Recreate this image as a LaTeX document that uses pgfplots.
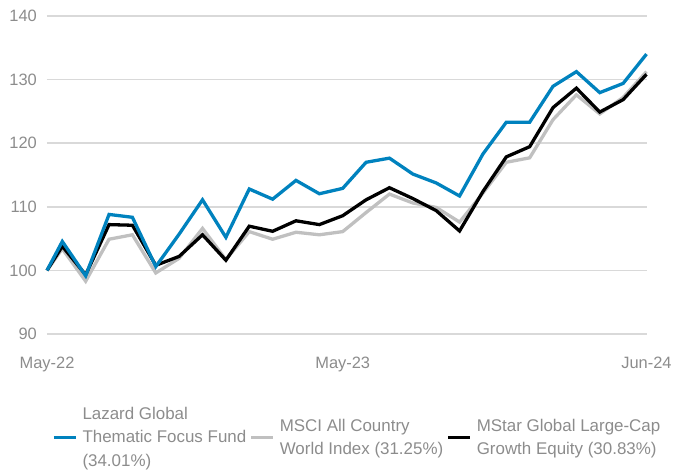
\documentclass[border=0pt]{standalone}
\usepackage{fontspec}
\setmainfont{Liberation Sans}
\usepackage{pgfplots}
\pgfplotsset{compat=1.18}
\definecolor{lzblue}{RGB}{0,130,190}
\definecolor{lzgray}{RGB}{192,192,192}
\definecolor{txtgray}{RGB}{140,140,140}
\definecolor{gridgray}{RGB}{217,217,217}
\begin{document}
\begin{tikzpicture}
\begin{axis}[name=ax, scale only axis, width=599.5bp, height=318bp,
  xmin=0.345, xmax=26, ymin=90, ymax=140,
  axis line style={draw=none}, major tick length=0pt,
  ymajorgrids, grid style={gridgray, line width=1.6bp},
  ytick={90,100,...,140},
  xtick={0.345,13,26}, xticklabels={May-22,May-23,Jun-24},
  tick label style={font=\fontsize{16.5}{20}\selectfont, text=txtgray},
  /pgf/number format/assume math mode=true,
  yticklabel style={anchor=east, inner sep=0pt, xshift=-10bp},
  xticklabel style={anchor=north, inner sep=0pt, yshift=-22.7bp},
  clip=false,
  legend style={draw=none, fill=none, at={(0,0)}, anchor=west, xshift=5bp, yshift=-103.5bp,
    inner sep=0pt, outer sep=0pt, font=\fontsize{17}{23.5}\selectfont, text=txtgray,
    cells={anchor=west, align=left, inner sep=0pt},
    nodes={inner sep=0pt},
    /tikz/every odd column/.append style={column sep=5bp},
    /tikz/every even column/.append style={column sep=3bp}},
  legend columns=3,
  legend image code/.code={\draw[#1, line width=3.5bp] (0bp,0bp) -- (22bp,0bp);},
]
\addlegendimage{lzblue}
\addlegendentry{Lazard Global\\Thematic Focus Fund\\(34.01\%)}
\addlegendimage{lzgray}
\addlegendentry{MSCI All Country\\World Index (31.25\%)}
\addlegendimage{black}
\addlegendentry{MStar Global Large-Cap\\Growth Equity (30.83\%)}

% MSCI ACWI
\addplot[forget plot, lzgray, line width=3.3bp, line join=miter] coordinates {
(0.345,100) (1,103.4) (2,98.3) (3,104.9) (4,105.6) (5,99.6) (6,101.9) (7,106.6)
(8,101.7) (9,106.1) (10,104.9) (11,106.0) (12,105.6) (13,106.1) (14,109.1)
(15,112.0) (16,110.6) (17,109.9) (18,107.6) (19,112.15) (20,117.0) (21,117.7)
(22,123.7) (23,127.6) (24,124.6) (25,127.2) (26,131.25)};
% MStar
\addplot[forget plot, black, line width=3.3bp, line join=miter] coordinates {
(0.345,100) (1,103.8) (2,99.3) (3,107.2) (4,107.1) (5,100.8) (6,102.2) (7,105.6)
(8,101.6) (9,106.95) (10,106.15) (11,107.8) (12,107.2) (13,108.6) (14,111.1)
(15,113.0) (16,111.3) (17,109.4) (18,106.2) (19,112.4) (20,117.85) (21,119.45)
(22,125.6) (23,128.65) (24,124.9) (25,126.85) (26,130.83)};
% Lazard
\addplot[forget plot, lzblue, line width=3.3bp, line join=miter] coordinates {
(0.345,100) (1,104.55) (2,99.15) (3,108.8) (4,108.35) (5,100.6) (6,105.7) (7,111.1)
(8,105.2) (9,112.8) (10,111.2) (11,114.15) (12,112.05) (13,112.9) (14,117.0)
(15,117.65) (16,115.15) (17,113.75) (18,111.7) (19,118.3) (20,123.3) (21,123.3)
(22,128.95) (23,131.25) (24,127.95) (25,129.4) (26,134.01)};
\end{axis}
\pgfresetboundingbox
\path[use as bounding box] ([xshift=-47bp,yshift=-136bp]ax.south west) rectangle ([xshift=26.5bp,yshift=16bp]ax.north east);
\end{tikzpicture}
\end{document}
